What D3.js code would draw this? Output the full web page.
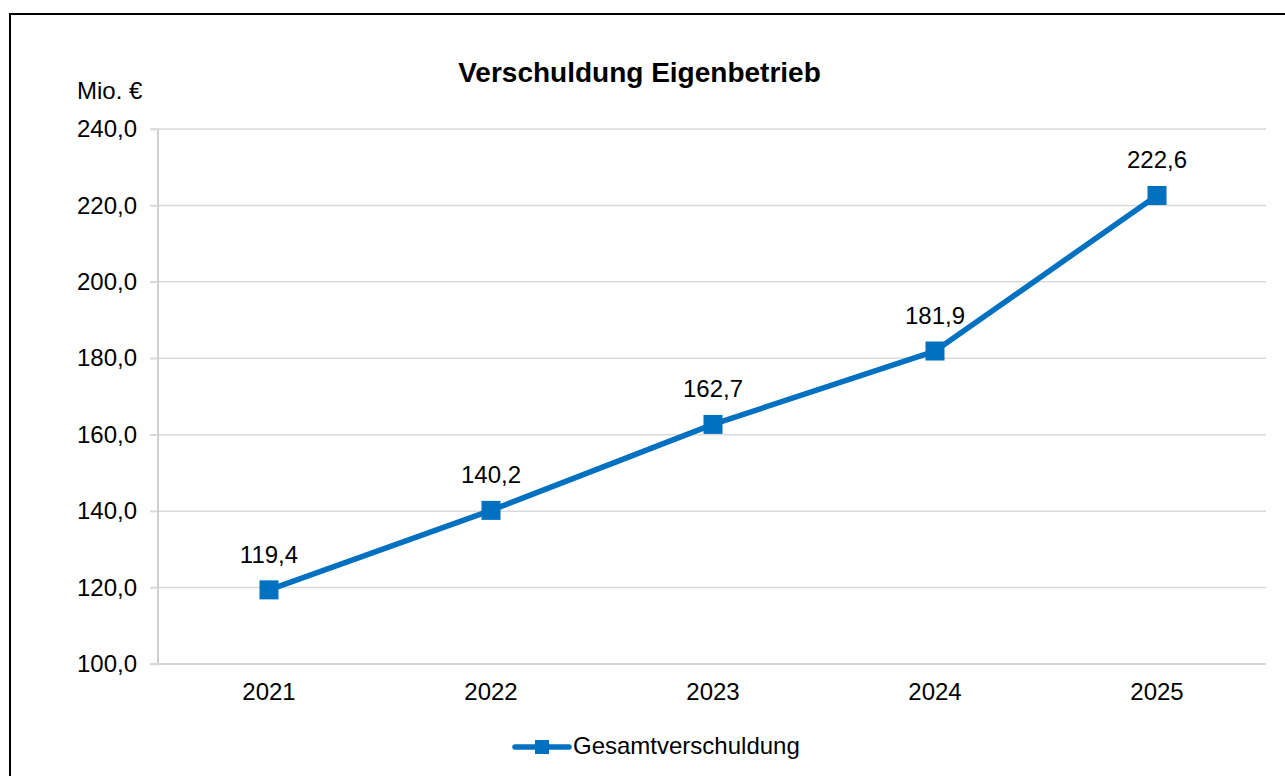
<!DOCTYPE html>
<html><head><meta charset="utf-8">
<script src="https://cdn.jsdelivr.net/npm/d3@7"></script>
<style>
body{margin:0;background:#fff;}
svg{display:block;font-family:"Liberation Sans",Arial,sans-serif;}
</style></head>
<body><svg id="c" width="1285" height="776"></svg>
<script>
const categories = ["2021","2022","2023","2024","2025"];
const values = [119.4, 140.2, 162.7, 181.9, 222.6];
const labels = ["119,4","140,2","162,7","181,9","222,6"];
const yTicks = [100,120,140,160,180,200,220,240];
const seriesName = "Gesamtverschuldung";
const title = "Verschuldung Eigenbetrieb";
const unit = "Mio. €";

const svg = d3.select("#c");
const color = "#0070c0";
const fs = 24;
const fmt = v => d3.format(".1f")(v).replace(".", ",");

// frame
svg.append("rect").attr("x",10).attr("y",14).attr("width",1290).attr("height",780)
  .attr("fill","none").attr("stroke","#000").attr("stroke-width",2);

const x = d3.scaleBand().domain(categories).range([158,1268]);
const y = d3.scaleLinear().domain([100,240]).range([664,129]);

// gridlines
svg.append("g").selectAll("line").data(yTicks.filter(t=>t>100)).join("line")
  .attr("x1",150).attr("x2",1266).attr("y1",d=>y(d)).attr("y2",d=>y(d))
  .attr("stroke","#d9d9d9").attr("stroke-width",1.5);

// y axis
const ya = svg.append("g").attr("transform","translate(158,0)")
  .call(d3.axisLeft(y).tickValues(yTicks).tickFormat(fmt).tickSize(8).tickPadding(13));
ya.select(".domain").attr("stroke","#bfbfbf").attr("stroke-width",1.5).attr("d","M0,129V664");
ya.selectAll(".tick line").attr("stroke","#d9d9d9").attr("stroke-width",1.5);
ya.selectAll("text").attr("font-size",fs).attr("fill","#000").attr("font-family","Liberation Sans, Arial, sans-serif");

// x axis
const xa = svg.append("g").attr("transform","translate(0,664)")
  .call(d3.axisBottom(x).tickSize(0).tickPadding(19));
xa.select(".domain").attr("stroke","#d9d9d9").attr("stroke-width",2).attr("d","M150,0H1266");
xa.selectAll("text").attr("font-size",fs).attr("fill","#000").attr("font-family","Liberation Sans, Arial, sans-serif");

const cx = d => x(d) + x.bandwidth()/2;
const pts = categories.map((c,i)=>({c, v:values[i], l:labels[i]}));

svg.append("path").datum(pts)
  .attr("d", d3.line().x(d=>cx(d.c)).y(d=>y(d.v)))
  .attr("fill","none").attr("stroke",color).attr("stroke-width",5.5).attr("stroke-linejoin","round");

svg.append("g").selectAll("rect").data(pts).join("rect")
  .attr("x",d=>cx(d.c)-9.5).attr("y",d=>y(d.v)-9.5).attr("width",19).attr("height",19)
  .attr("fill",color);

svg.append("g").selectAll("text").data(pts).join("text")
  .attr("x",d=>cx(d.c)).attr("y",d=>y(d.v)-27).attr("text-anchor","middle")
  .attr("font-size",fs).attr("fill","#000").text(d=>d.l);

// title
svg.append("text").attr("x",639.5).attr("y",82).attr("text-anchor","middle")
  .attr("font-size",28).attr("font-weight","bold").attr("fill","#000").text(title);

// unit
svg.append("text").attr("x",77).attr("y",99).attr("font-size",fs).attr("fill","#000").text(unit);

// legend
const lg = svg.append("g");
lg.append("line").attr("x1",515).attr("x2",569).attr("y1",747).attr("y2",747)
  .attr("stroke",color).attr("stroke-width",5.5).attr("stroke-linecap","round");
lg.append("rect").attr("x",535).attr("y",740).attr("width",14).attr("height",14).attr("fill",color);
lg.append("text").attr("x",573).attr("y",754).attr("font-size",fs).attr("fill","#000").text(seriesName);
</script></body></html>
